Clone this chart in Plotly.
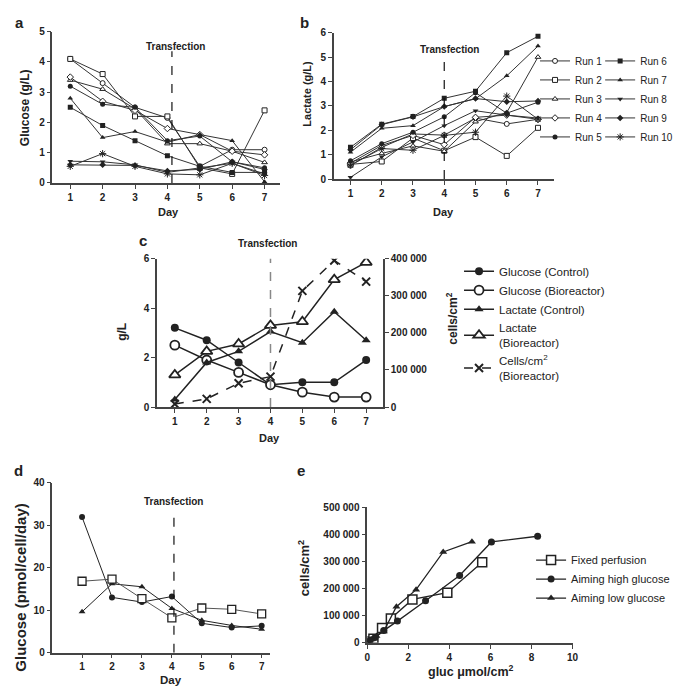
import plotly.graph_objects as go

W, H = 685, 686

# ---------------- data ----------------
DAYS = [1, 2, 3, 4, 5, 6, 7]
RUN_NAMES = ["Run 1", "Run 2", "Run 3", "Run 4", "Run 5",
             "Run 6", "Run 7", "Run 8", "Run 9", "Run 10"]

# panel a: glucose (g/L) per run
GLUCOSE_RUNS = [
    [4.1, 3.3, 2.5, 2.15, 0.55, 1.1, 1.1],
    [4.1, 3.6, 2.2, 2.2, 0.5, 0.3, 2.4],
    [3.4, 3.1, 2.45, 1.3, 1.3, 1.05, 0.68],
    [3.5, 2.7, 2.4, 1.8, 1.6, 1.05, 0.93],
    [3.2, 2.6, 2.5, 1.4, 1.55, 0.7, 0.5],
    [2.5, 1.9, 1.4, 0.9, 0.55, 0.35, 0.35],
    [2.8, 1.5, 1.7, 1.35, 1.6, 1.4, 0.04],
    [0.72, 0.7, 0.6, 0.35, 0.5, 0.65, 0.3],
    [0.6, 0.6, 0.58, 0.4, 0.45, 0.7, 0.45],
    [0.55, 0.97, 0.55, 0.3, 0.27, 0.65, 0.25],
]

# panel b: lactate (g/L) per run
LACTATE_RUNS = [
    [0.55, 1.3, 1.85, 1.8, 2.5, 2.26, 2.45],
    [0.6, 0.72, 1.68, 1.16, 1.72, 0.95, 2.1],
    [0.7, 1.05, 1.36, 1.14, 2.35, 2.73, 5.0],
    [0.65, 1.38, 1.79, 1.41, 2.53, 2.62, 2.45],
    [0.75, 1.45, 1.92, 2.55, 3.54, 2.7, 3.15],
    [1.3, 2.25, 2.56, 3.31, 3.6, 5.18, 5.85],
    [1.1, 2.08, 2.19, 2.97, 3.29, 4.23, 5.45],
    [0.07, 0.91, 1.52, 2.19, 2.8, 2.62, 2.5],
    [1.2, 2.23, 2.55, 2.97, 3.3, 3.17, 3.2],
    [0.58, 1.25, 1.18, 1.79, 1.92, 3.4, 2.45],
]

# panel c
C_NAMES = ["Glucose (Control)", "Glucose (Bioreactor)", "Lactate (Control)",
           "Lactate<br>(Bioreactor)", "Cells/cm<sup>2</sup><br>(Bioreactor)"]
C_GLUC_CTRL = [3.2, 2.7, 1.8, 0.9, 1.0, 1.0, 1.9]
C_GLUC_BIO = [2.5, 1.9, 1.4, 0.9, 0.6, 0.4, 0.4]
C_LAC_CTRL = [0.3, 1.8, 2.25, 3.05, 2.6, 3.85, 2.7]
C_LAC_BIO = [1.3, 2.25, 2.55, 3.3, 3.45, 5.15, 5.85]
C_CELLS_BIO = [8000, 22000, 64000, 82000, 313000, 395000, 338000]

# panel d: glucose (pmol/cell/day)
D_CIRCLE = [31.9, 13.0, 11.9, 13.2, 6.9, 5.9, 6.3]
D_SQUARE = [16.8, 17.3, 12.7, 8.2, 10.5, 10.2, 9.1]
D_TRIANGLE = [9.6, 16.2, 15.5, 10.4, 7.6, 6.4, 5.5]

# panel e: cells/cm2 vs glucose consumed (umol/cm2)
E_NAMES = ["Fixed perfusion", "Aiming high glucose", "Aiming low glucose"]
E_FIXED_X = [0.05, 0.3, 0.72, 1.15, 2.2, 3.9, 5.6]
E_FIXED_Y = [5000, 15000, 55000, 90000, 160000, 185000, 297000]
E_HIGH_X = [0.0, 0.15, 0.38, 0.8, 1.47, 2.84, 4.5, 6.05, 8.3]
E_HIGH_Y = [5000, 10000, 20000, 45000, 80000, 155000, 248000, 372000, 393000]
E_LOW_X = [0.05, 0.2, 0.45, 0.8, 1.42, 2.38, 3.7, 5.1]
E_LOW_Y = [5000, 12000, 25000, 42000, 133000, 196000, 335000, 373000]

# ---------------- helpers ----------------
FONT = "Liberation Sans, Arial, sans-serif"
INK = "#222222"
AX = "#444444"


def xd(l, r):
    return [l / W, r / W]


def yd(t, b):
    return [1 - b / H, 1 - t / H]


def px(x):
    return x / W


def py(y):
    return 1 - y / H


RUN_STYLE = [
    ("circle", True), ("square", True), ("triangle-up", True), ("diamond", True),
    ("circle", False), ("square", False), ("triangle-up", False),
    ("triangle-down", False), ("diamond", False), ("asterisk-open", False),
]


def run_marker(i, size=5):
    sym, open_ = RUN_STYLE[i]
    if sym.endswith("-open"):
        return dict(symbol=sym, size=size + 1, color=INK, line=dict(color=INK, width=1))
    if open_:
        return dict(symbol=sym, size=size, color="white", line=dict(color=INK, width=1))
    return dict(symbol=sym, size=size, color=INK, line=dict(color=INK, width=0))


fig = go.Figure()

# panel a
for i, vals in enumerate(GLUCOSE_RUNS):
    fig.add_trace(go.Scatter(x=DAYS, y=vals, mode="lines+markers", name=RUN_NAMES[i],
                             line=dict(color="#333333", width=1), marker=run_marker(i),
                             xaxis="x", yaxis="y", showlegend=False))
# panel b
for i, vals in enumerate(LACTATE_RUNS):
    fig.add_trace(go.Scatter(x=DAYS, y=vals, mode="lines+markers", name=RUN_NAMES[i],
                             line=dict(color="#333333", width=1), marker=run_marker(i),
                             xaxis="x2", yaxis="y2",
                             legend="legend" if i < 5 else "legend2"))

# panel c
fig.add_trace(go.Scatter(x=DAYS, y=C_GLUC_CTRL, name=C_NAMES[0], mode="lines+markers",
                         line=dict(color=INK, width=1.5),
                         marker=dict(symbol="circle", size=8, color=INK),
                         xaxis="x3", yaxis="y3", legend="legend3"))
fig.add_trace(go.Scatter(x=DAYS, y=C_GLUC_BIO, name=C_NAMES[1], mode="lines+markers",
                         line=dict(color=INK, width=1.5),
                         marker=dict(symbol="circle", size=9, color="white",
                                     line=dict(color=INK, width=1.8)),
                         xaxis="x3", yaxis="y3", legend="legend3"))
fig.add_trace(go.Scatter(x=DAYS, y=C_LAC_CTRL, name=C_NAMES[2], mode="lines+markers",
                         line=dict(color=INK, width=1.5),
                         marker=dict(symbol="triangle-up", size=8, color=INK),
                         xaxis="x3", yaxis="y3", legend="legend3"))
fig.add_trace(go.Scatter(x=DAYS, y=C_LAC_BIO, name=C_NAMES[3], mode="lines+markers",
                         line=dict(color=INK, width=1.5),
                         marker=dict(symbol="triangle-up", size=10, color="white",
                                     line=dict(color=INK, width=1.8)),
                         xaxis="x3", yaxis="y3", legend="legend3"))
fig.add_trace(go.Scatter(x=DAYS, y=C_CELLS_BIO, name=C_NAMES[4], mode="lines+markers",
                         line=dict(color=INK, width=1.5, dash="dash"),
                         marker=dict(symbol="x-thin-open", size=8,
                                     line=dict(color=INK, width=2)),
                         xaxis="x3", yaxis="y6", legend="legend3"))

# panel d
fig.add_trace(go.Scatter(x=DAYS, y=D_CIRCLE, mode="lines+markers", showlegend=False,
                         line=dict(color=INK, width=1),
                         marker=dict(symbol="circle", size=6, color=INK),
                         xaxis="x4", yaxis="y4"))
fig.add_trace(go.Scatter(x=DAYS, y=D_TRIANGLE, mode="lines+markers", showlegend=False,
                         line=dict(color=INK, width=1),
                         marker=dict(symbol="triangle-up", size=6, color=INK),
                         xaxis="x4", yaxis="y4"))
fig.add_trace(go.Scatter(x=DAYS, y=D_SQUARE, mode="lines+markers", showlegend=False,
                         line=dict(color="#555555", width=1),
                         marker=dict(symbol="square", size=8, color="white",
                                     line=dict(color=INK, width=1.3)),
                         xaxis="x4", yaxis="y4"))

# panel e
fig.add_trace(go.Scatter(x=E_FIXED_X, y=E_FIXED_Y, name=E_NAMES[0], mode="lines+markers",
                         line=dict(color=INK, width=1.3),
                         marker=dict(symbol="square", size=9, color="white",
                                     line=dict(color=INK, width=1.5)),
                         xaxis="x5", yaxis="y5", legend="legend4"))
fig.add_trace(go.Scatter(x=E_HIGH_X, y=E_HIGH_Y, name=E_NAMES[1], mode="lines+markers",
                         line=dict(color=INK, width=1.3),
                         marker=dict(symbol="circle", size=7, color=INK),
                         xaxis="x5", yaxis="y5", legend="legend4"))
fig.add_trace(go.Scatter(x=E_LOW_X, y=E_LOW_Y, name=E_NAMES[2], mode="lines+markers",
                         line=dict(color=INK, width=1.3),
                         marker=dict(symbol="triangle-up", size=7, color=INK),
                         xaxis="x5", yaxis="y5", legend="legend4"))

# ---------------- axes ----------------
TICKFONT = dict(family=FONT, size=10, color=INK, weight="bold")


def axis(**kw):
    base = dict(showline=True, linecolor=AX, linewidth=1.5, ticks="outside",
                ticklen=4, tickwidth=1.2, tickcolor=AX, tickfont=TICKFONT,
                showgrid=False, zeroline=False, fixedrange=True)
    base.update(kw)
    return base


fig.update_layout(
    xaxis=axis(domain=xd(42, 273), range=[0.45, 7.49], tickvals=DAYS, anchor="y"),
    yaxis=axis(domain=yd(18, 172), range=[0, 5], dtick=1, anchor="x"),
    xaxis2=axis(domain=xd(327, 550), range=[0.463, 7.505], tickvals=DAYS, anchor="y2"),
    yaxis2=axis(domain=yd(19, 168), range=[0, 6], dtick=1, anchor="x2"),
    xaxis3=axis(domain=xd(148, 377), range=[0.443, 7.53], tickvals=DAYS, anchor="y3"),
    yaxis3=axis(domain=yd(249, 400), range=[0, 6], dtick=2, anchor="x3"),
    yaxis6=axis(domain=yd(249, 400), range=[0, 400000], dtick=100000, tickformat=",d",
                anchor="x3", overlaying="y3", side="right"),
    xaxis4=axis(domain=xd(42, 262), range=[0.011, 7.264], tickvals=DAYS, anchor="y4"),
    yaxis4=axis(domain=yd(477, 650), range=[0, 40], dtick=10, anchor="x4"),
    xaxis5=axis(domain=xd(361, 569), range=[0, 10], dtick=2, anchor="y5"),
    yaxis5=axis(domain=yd(502, 640), range=[0, 500000], dtick=100000, tickformat=",d",
                anchor="x5"),
)

# ---------------- legends ----------------
LEG = dict(bgcolor="rgba(0,0,0,0)", borderwidth=0, itemwidth=30, xanchor="left",
           yanchor="top", tracegroupgap=0, itemclick=False, itemdoubleclick=False)
fig.update_layout(
    legend=dict(LEG, x=px(531), y=py(33), font=dict(family=FONT, size=10, color=INK)),
    legend2=dict(LEG, x=px(597), y=py(33), font=dict(family=FONT, size=10, color=INK)),
    legend3=dict(LEG, x=px(454), y=py(247), font=dict(family=FONT, size=11.5, color=INK)),
    legend4=dict(LEG, x=px(527), y=py(541), font=dict(family=FONT, size=11, color=INK)),
)

# ---------------- transfection lines ----------------
shapes = [
    dict(type="line", xref="x", yref="y", x0=4.14, x1=4.14, y0=0, y1=4.35,
         line=dict(color="#111111", width=1.2, dash="dash")),
    dict(type="line", xref="x2", yref="y2", x0=4, x1=4, y0=0, y1=4.9,
         line=dict(color="#111111", width=1.2, dash="dash")),
    dict(type="line", xref="x3", yref="y3", x0=4, x1=4, y0=0, y1=6.05,
         line=dict(color="#888888", width=1.5, dash="dash")),
    dict(type="line", xref="x4", yref="y4", x0=4.07, x1=4.07, y0=0, y1=33.4,
         line=dict(color="#111111", width=1.2, dash="dash")),
]

# ---------------- text ----------------
def ann(text, x, y, size, bold=True, angle=0):
    return dict(text=text, x=px(x), y=py(y), xref="paper", yref="paper",
                xanchor="center", yanchor="middle", showarrow=False, textangle=angle,
                font=dict(family=FONT, size=size, color=INK,
                          weight="bold" if bold else "normal"))


annotations = [
    ann("a", 9, 9, 15), ann("b", 297, 9, 15), ann("c", 134, 231, 15),
    ann("d", 8, 465, 15), ann("e", 294, 465, 15),
    ann("Transfection", 167, 33, 10), ann("Transfection", 444, 36, 10),
    ann("Transfection", 260, 234, 10), ann("Transfection", 165, 496, 10),
    ann("Glucose (g/L)", 15, 95, 12, angle=-90),
    ann("Day", 160, 202, 11),
    ann("Lactate (g/L)", 300, 81, 11, angle=-90),
    ann("Day", 438, 202, 11),
    ann("g/L", 113, 324, 12, angle=-90),
    ann("cells/cm<sup>2</sup>", 446, 310, 12, angle=-90),
    ann("Day", 262, 432, 11),
    ann("Glucose (pmol/cell/day)", 10, 584, 15, angle=-90),
    ann("Day", 162, 678, 11.5),
    ann("cells/cm<sup>2</sup>", 297, 564, 13, angle=-90),
    ann("gluc μmol/cm<sup>2</sup>", 466, 669, 12.5),
]

fig.update_layout(
    width=W, height=H, margin=dict(l=0, r=0, t=0, b=0),
    paper_bgcolor="white", plot_bgcolor="white",
    separators=". ", shapes=shapes, annotations=annotations,
    font=dict(family=FONT, color=INK),
)

fig.write_html("out.html", include_plotlyjs=True, config={"displayModeBar": False})
